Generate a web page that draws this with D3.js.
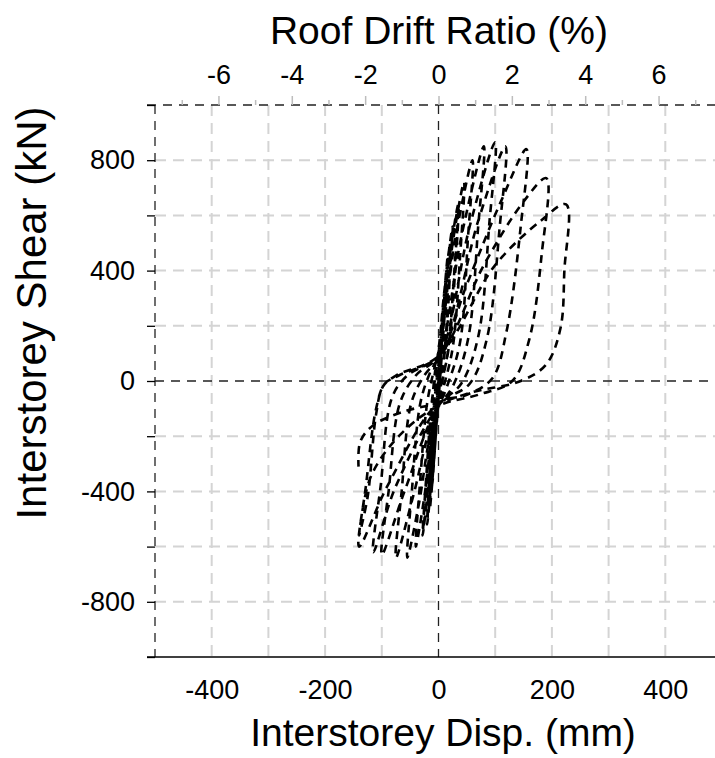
<!DOCTYPE html>
<html>
<head>
<meta charset="utf-8">
<script src="https://cdn.jsdelivr.net/npm/d3@7"></script>
<style>
  html, body { margin: 0; padding: 0; background: #fff; }
  svg { display: block; font-family: "Liberation Sans", Arial, sans-serif; }
</style>
</head>
<body>
<svg id="chart"></svg>
<script>
const width = 715, height = 758;

// tick values
const shearTicks = d3.range(-1000, 1001, 200);
const shearLabels = [-800, -400, 0, 400, 800];
const dispTicks = [-400, -200, 0, 200, 400];
const dispGrid = [-400, -300, -200, -100, 100, 200, 300, 400];
const driftTicks = d3.range(-7, 8, 1);
const driftLabels = [-6, -4, -2, 0, 2, 4, 6];

// hysteresis loops, [disp (mm), shear (kN)], one array per cycle
const cycles = [
  [[0, 0], [3, 100], [0, 10], [-3, -100], [0, -10]],
  [[6, 200], [1, 30], [-5, -180], [-1, -30]],
  [[10, 300], [3, 60], [-8, -290], [-2, -50]],
  [[14, 400], [4, 80], [-11, -380], [-3, -70]],
  [[18, 470], [6, 100], [-15, -460], [-5, -90]],
  [[16, 450], [5, 90], [-14, -440], [-4, -80]],
  [[2, 80], [12, 360], [25, 560], [20, 380], [12, 120], [0, -40], [-8, -250], [-20, -520], [-16, -340], [-8, -80]],
  [[-2, 40], [10, 320], [24, 540], [19, 360], [10, 100], [-1, -40], [-8, -240], [-19, -500], [-15, -320], [-7, -70]],
  [[0, 60], [15, 380], [35, 640], [30, 420], [18, 120], [5, -20], [-8, -200], [-28, -560], [-22, -360], [-12, -80]],
  [[-4, 40], [14, 360], [34, 620], [28, 400], [16, 100], [3, -30], [-10, -200], [-27, -540], [-21, -340], [-11, -70]],
  [[-5, 50], [8, 200], [25, 500], [45, 720], [38, 450], [25, 120], [8, -30], [-10, -180], [-25, -420], [-40, -600], [-33, -380], [-20, -80]],
  [[-8, 40], [5, 150], [30, 520], [60, 800], [52, 520], [38, 140], [15, -20], [-10, -150], [-35, -450], [-55, -640], [-47, -400], [-32, -80]],
  [[-15, 30], [5, 110], [40, 520], [80, 850], [70, 560], [52, 150], [25, -20], [-5, -110], [-45, -420], [-75, -640], [-65, -400], [-48, -80]],
  [[-25, 20], [5, 100], [55, 560], [100, 865], [90, 580], [70, 160], [40, -10], [0, -90], [-60, -400], [-100, -630], [-88, -400], [-68, -80]],
  [[-40, 20], [5, 100], [70, 580], [118, 850], [108, 560], [85, 150], [55, -10], [5, -80], [-75, -380], [-115, -620], [-102, -380], [-82, -60]],
  [[-55, 20], [0, 90], [50, 350], [110, 650], [155, 840], [145, 560], [120, 180], [95, 10], [50, -50], [0, -80], [-90, -380], [-140, -600], [-128, -380], [-110, -100], [-95, -10]],
  [[-70, 20], [0, 90], [80, 420], [150, 650], [190, 735], [182, 460], [160, 150], [130, 0], [70, -50], [0, -90], [-70, -200], [-120, -350], [-140, -560], [-125, -420], [-110, -120], [-98, -20]],
  [[-75, 20], [0, 90], [100, 420], [180, 580], [225, 640], [222, 400], [215, 190], [190, 60], [145, 0], [60, -40], [0, -80], [-60, -110], [-115, -160], [-138, -220], [-141, -310]]
];

const points = cycles.flat();

const x = d3.scaleLinear().domain([-500, 500]).range([155, 722]);
const y = d3.scaleLinear().domain([-1000, 1000]).range([657, 105]);
const xTop = d3.scaleLinear().domain([-7.73, 7.73]).range([155, 722]);

const svg = d3.select("#chart")
    .attr("width", width)
    .attr("height", height);

svg.append("defs").append("clipPath").attr("id", "plot")
  .append("rect")
    .attr("x", 155).attr("y", 105)
    .attr("width", 567).attr("height", 552);

// grid
const grid = svg.append("g");
grid.selectAll(".vg").data(dispGrid).join("line")
    .attr("x1", d => x(d)).attr("x2", d => x(d))
    .attr("y1", y(1000)).attr("y2", y(-1000))
    .attr("stroke", "#d4d4d4").attr("stroke-width", 2)
    .attr("stroke-dasharray", "11,7");
grid.selectAll(".hg").data(shearTicks.filter(d => d !== 0 && Math.abs(d) < 1000)).join("line")
    .attr("x1", x(-500)).attr("x2", x(500))
    .attr("y1", d => y(d)).attr("y2", d => y(d))
    .attr("stroke", "#d4d4d4").attr("stroke-width", 2)
    .attr("stroke-dasharray", "11,7");

// zero lines
svg.append("line")
    .attr("x1", x(0)).attr("x2", x(0)).attr("y1", y(1000)).attr("y2", y(-1000))
    .attr("stroke", "#222").attr("stroke-width", 1.3).attr("stroke-dasharray", "9,7");
svg.append("line")
    .attr("x1", x(-500)).attr("x2", x(500)).attr("y1", y(0)).attr("y2", y(0))
    .attr("stroke", "#222").attr("stroke-width", 1.3).attr("stroke-dasharray", "9,7");

// frame
svg.append("line")
    .attr("x1", 147).attr("x2", x(500)).attr("y1", y(1000)).attr("y2", y(1000))
    .attr("stroke", "#222").attr("stroke-width", 1.3).attr("stroke-dasharray", "9,7");
svg.append("line")
    .attr("x1", x(-500)).attr("x2", x(-500)).attr("y1", y(1000)).attr("y2", y(-1000))
    .attr("stroke", "#222").attr("stroke-width", 1.3).attr("stroke-dasharray", "9,7");
svg.append("line")
    .attr("x1", 147).attr("x2", x(500)).attr("y1", y(-1000)).attr("y2", y(-1000))
    .attr("stroke", "#000").attr("stroke-width", 1.5);

const fmt = d => String(d);   // plain hyphen minus like the original

// left axis
const yAxis = svg.append("g")
    .attr("transform", `translate(${x(-500)},0)`)
    .call(d3.axisLeft(y).tickValues(shearTicks).tickSize(8).tickPadding(12)
        .tickFormat(d => shearLabels.includes(d) ? fmt(d) : ""));
yAxis.select(".domain").remove();
yAxis.selectAll(".tick line").attr("stroke", "#000").attr("stroke-width", 1.3);
yAxis.selectAll("text").attr("font-size", 27).attr("fill", "#000")
    .attr("font-family", "Liberation Sans, Arial, sans-serif");

// bottom axis
const xAxis = svg.append("g")
    .attr("transform", `translate(0,${y(-1000)})`)
    .call(d3.axisBottom(x).tickValues(dispTicks).tickSize(0).tickPadding(23).tickFormat(fmt));
xAxis.select(".domain").remove();
xAxis.selectAll("text").attr("font-size", 27).attr("fill", "#000")
    .attr("font-family", "Liberation Sans, Arial, sans-serif");

// top axis (roof drift ratio)
const topAxis = svg.append("g")
    .attr("transform", `translate(0,${y(1000)})`)
    .call(d3.axisTop(xTop).tickValues(driftTicks).tickSize(0).tickPadding(0)
        .tickFormat(d => driftLabels.includes(d) ? fmt(d) : ""));
topAxis.select(".domain").remove();
topAxis.selectAll(".tick line")
    .attr("y2", d => driftLabels.includes(d) ? -9 : -5)
    .attr("stroke", "#bdbdbd").attr("stroke-width", 1.5);
topAxis.selectAll("text").attr("y", -21).attr("font-size", 27).attr("fill", "#000")
    .attr("font-family", "Liberation Sans, Arial, sans-serif");

// hysteresis
const line = d3.line()
    .x(d => x(d[0]))
    .y(d => y(d[1]))
    .curve(d3.curveCatmullRom.alpha(0.5));

svg.append("path")
    .datum(points)
    .attr("clip-path", "url(#plot)")
    .attr("fill", "none")
    .attr("stroke", "#000")
    .attr("stroke-width", 2.6)
    .attr("stroke-dasharray", "8,6")
    .attr("d", line);

// axis titles
svg.append("text")
    .attr("x", 439).attr("y", 44)
    .attr("text-anchor", "middle").attr("font-size", 39)
    .text("Roof Drift Ratio (%)");
svg.append("text")
    .attr("x", 443).attr("y", 746)
    .attr("text-anchor", "middle").attr("font-size", 39)
    .text("Interstorey Disp. (mm)");
svg.append("text")
    .attr("transform", "translate(46,313) rotate(-90)")
    .attr("text-anchor", "middle").attr("font-size", 42)
    .text("Interstorey Shear (kN)");
</script>
</body>
</html>
